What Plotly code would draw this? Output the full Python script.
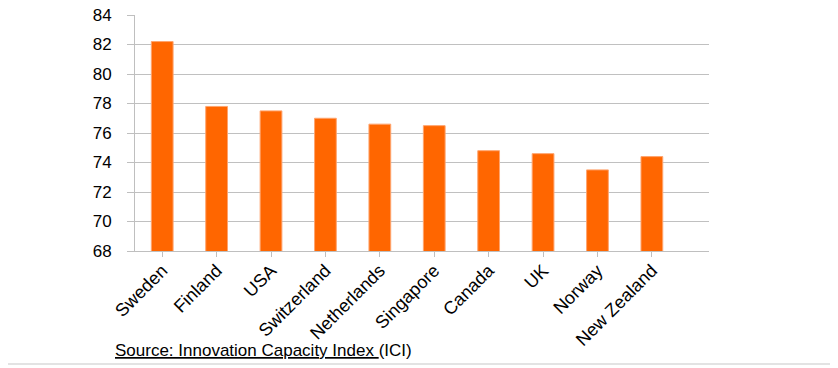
import plotly.graph_objects as go

countries = ["Sweden", "Finland", "USA", "Switzerland", "Netherlands",
             "Singapore", "Canada", "UK", "Norway", "New Zealand"]
ici_values = [82.2, 77.8, 77.5, 77.0, 76.6, 76.5, 74.8, 74.6, 73.5, 74.4]
y_ticks = [68, 70, 72, 74, 76, 78, 80, 82, 84]

OFF = 8  # page body margin
SW, SH = 838, 368  # screen size
W, H = SW - OFF, SH - OFF
# plot area in screen pixels
SX0, SX1, SY0, SY1 = 135, 709, 15, 251
L, T = SX0 - OFF, SY0 - OFF
R, B = SW - SX1, SH - SY1
pw, ph = SX1 - SX0, SY1 - SY0

def px_x(px):
    return (px - SX0) / pw

def px_y(py):
    return (SY1 - py) / ph

fig = go.Figure()
fig.add_trace(go.Bar(
    x=list(range(len(countries))),
    y=ici_values,
    width=0.4,
    marker=dict(color="#FF6600", line=dict(color="#FFA46E", width=1)),
))

fig.update_layout(
    width=W, height=H,
    margin=dict(l=L, r=R, t=T, b=B, pad=0, autoexpand=False),
    paper_bgcolor="white", plot_bgcolor="white",
    showlegend=False,
    font=dict(family="Liberation Sans, Arial, sans-serif", color="#000000"),
)
fig.update_xaxes(
    tickmode="array",
    tickvals=list(range(len(countries))),
    ticktext=countries,
    range=[-0.5, 10.05],
    tickangle=-45,
    tickfont=dict(size=18, color="#000000"),
    showgrid=False,
    showline=True, linecolor="#BFBFBF", linewidth=1,
    ticks="outside", ticklen=5, tickcolor="#BFBFBF",
    tickson="boundaries",
    ticklabelstandoff=-4,
    ticklabeloverflow="allow",
    zeroline=False,
    automargin=False,
)
fig.update_yaxes(
    range=[68, 84],
    tickmode="array", tickvals=y_ticks,
    tickfont=dict(size=17, color="#000000"),
    showgrid=True, gridcolor="#C0C0C0", gridwidth=1,
    showline=True, linecolor="#BFBFBF", linewidth=1,
    ticks="outside", ticklen=7, tickcolor="#BFBFBF",
    ticklabelstandoff=12,
    ticklabeloverflow="allow",
    zeroline=False,
    automargin=False,
)

fig.add_annotation(
    xref="paper", yref="paper",
    x=px_x(113), y=px_y(350),
    xanchor="left", yanchor="middle",
    text="<u>Source: Innovation Capacity Index </u>(ICI)",
    showarrow=False,
    font=dict(size=17, color="#000000", family="Liberation Sans, Arial, sans-serif"),
)

# light frame (right and bottom edges visible)
fig.add_shape(
    type="line", xref="paper", yref="paper",
    x0=px_x(OFF), x1=px_x(835), y0=px_y(364), y1=px_y(364),
    line=dict(color="#E3E3E3", width=2), layer="below",
)
fig.add_shape(
    type="line", xref="paper", yref="paper",
    x0=px_x(835), x1=px_x(835), y0=px_y(364), y1=px_y(OFF),
    line=dict(color="#E3E3E3", width=2), layer="below",
)

fig.write_html("out.html")
